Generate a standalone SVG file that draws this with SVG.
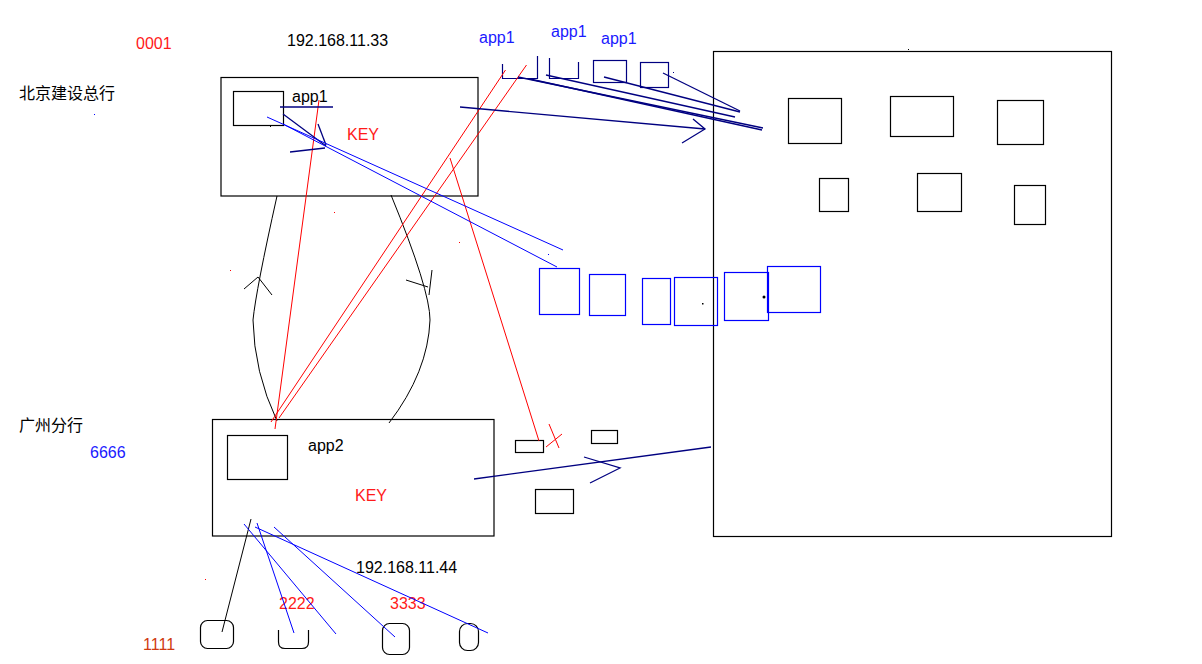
<svg xmlns="http://www.w3.org/2000/svg" width="1202" height="664" viewBox="0 0 1202 664">
<style>
.t{font-family:"Liberation Sans",Arial,sans-serif;font-size:16px}
.cn{font-family:"Liberation Sans","Noto Sans CJK SC",sans-serif;font-size:16px;fill:#000}
.red{fill:#ff1a1a}
.blu{fill:#1a1aff}
.blk{fill:#000}
.box{fill:none;stroke:#000;stroke-width:1.2}
.nbox{fill:none;stroke:#000080;stroke-width:1.2}
.bbox{fill:none;stroke:#0000ff;stroke-width:1.2}
.rl{stroke:#ff0000;stroke-width:1;fill:none}
.bl{stroke:#0000ff;stroke-width:1;fill:none}
.nl{stroke:#000080;stroke-width:1.3;fill:none}
.kl{stroke:#000;stroke-width:1;fill:none}
</style>
<rect width="1202" height="664" fill="#fff"/>

<g id="labels">
<text class="t red" x="136" y="49">0001</text>
<text class="t blk" x="287" y="46">192.168.11.33</text>
<text class="cn" x="19" y="99">北京建设总行</text>
<text class="cn" x="19" y="431">广州分行</text>
<text class="t blu" x="90" y="458">6666</text>
<text class="t blk" x="356" y="573">192.168.11.44</text>
<text class="t red" x="279" y="609">2222</text>
<text class="t red" x="390" y="609">3333</text>
<text class="t" fill="#d03a10" x="143" y="650">1111</text>
<text class="t blu" x="479" y="43">app1</text>
<text class="t blu" x="551" y="37">app1</text>
<text class="t blu" x="601" y="44">app1</text>
</g>

<g id="node-beijing">
<rect class="box" x="221" y="77.5" width="257" height="118.5"/>
<rect class="box" x="233.5" y="91.5" width="50" height="34"/>
<text class="t blk" x="292" y="102">app1</text>
<text class="t red" x="347" y="140">KEY</text>
</g>

<g id="node-guangzhou">
<rect class="box" x="212.5" y="419.5" width="281.5" height="116.5"/>
<rect class="box" x="227.5" y="435.5" width="60" height="44"/>
<text class="t blk" x="308" y="451">app2</text>
<text class="t red" x="355" y="501">KEY</text>
</g>

<g id="node-app-boxes-top">
<polyline class="nbox" points="502.5,64 502.5,78.5 537.5,78.5 537.5,56"/>
<polyline class="nbox" points="549.5,58 549.5,78.5 578.5,78.5 578.5,62"/>
<rect class="nbox" x="593.5" y="60.5" width="33" height="22"/>
<rect class="nbox" x="640.5" y="62.5" width="28" height="25"/>
</g>

<g id="node-server">
<rect class="box" x="713.5" y="51.5" width="398" height="485"/>
<rect class="box" x="788.5" y="98.5" width="53" height="45"/>
<rect class="box" x="890.5" y="96.5" width="63" height="40"/>
<rect class="box" x="997.5" y="100.5" width="46" height="44"/>
<rect class="box" x="819.5" y="178.5" width="29" height="33"/>
<rect class="box" x="917.5" y="173.5" width="44" height="38"/>
<rect class="box" x="1014.5" y="185.5" width="31" height="39"/>
</g>

<g id="node-blue-boxes">
<rect class="bbox" x="539.5" y="268.5" width="40" height="46"/>
<rect class="bbox" x="589.5" y="274.5" width="36" height="41"/>
<rect class="bbox" x="642.5" y="278.5" width="28" height="46"/>
<rect class="bbox" x="674.5" y="277.5" width="43" height="48"/>
<rect class="bbox" x="724.5" y="272.5" width="44" height="48"/>
<rect class="bbox" x="767.5" y="266.5" width="53" height="46"/>
</g>

<g id="node-small-boxes">
<rect class="box" x="515.5" y="440.5" width="28" height="12"/>
<rect class="box" x="591.5" y="430.5" width="26" height="13"/>
<rect class="box" x="535.5" y="489.5" width="38" height="24"/>
</g>

<g id="node-devices">
<rect class="box" x="200.5" y="620.5" width="33" height="28" rx="7"/>
<path class="box" d="M278.5,630 V642 Q278.5,648.5 285,648.5 H302 Q308.5,648.5 308.5,642 V630"/>
<rect class="box" x="382.5" y="623.5" width="27" height="31" rx="7"/>
<rect class="box" x="459.5" y="623.5" width="19" height="27" rx="8"/>
</g>

<g id="connectors">
<!-- black curves between branches -->
<path class="kl" d="M277,196 Q256,290 253,320 Q254,372 277,421"/>
<polyline class="kl" points="244,289 258,277 272,295"/>
<path class="kl" d="M391,195 Q430,290 430,320 Q428,372 389,423"/>
<line class="kl" x1="406" y1="280" x2="428" y2="287"/>
<line class="kl" x1="432" y1="270" x2="429" y2="295"/>
<!-- red lines -->
<line class="rl" x1="319" y1="100" x2="275" y2="429"/>
<line class="rl" x1="505.5" y1="70" x2="271" y2="422"/>
<line class="rl" x1="526.5" y1="65" x2="279" y2="418"/>
<line class="rl" x1="450" y1="158" x2="539" y2="441"/>
<line class="rl" x1="549" y1="424" x2="559" y2="448"/>
<line class="rl" x1="562" y1="434" x2="546" y2="447"/>
<!-- navy strokes in beijing box -->
<line class="nl" x1="280" y1="107" x2="333" y2="107"/>
<line class="nl" x1="283" y1="114" x2="326" y2="146"/>
<line class="nl" x1="318" y1="124" x2="326" y2="145"/>
<line class="nl" x1="290" y1="152" x2="325" y2="148"/>
<!-- blue lines to blue boxes -->
<line class="bl" x1="267" y1="117" x2="563" y2="250"/>
<line class="bl" x1="283" y1="124" x2="557" y2="267"/>
<!-- navy lines from app boxes to server -->
<line class="nl" x1="518" y1="77" x2="763" y2="128"/>
<line class="nl" x1="530" y1="79" x2="762" y2="130"/>
<line class="nl" x1="546" y1="75" x2="735" y2="117"/>
<line class="nl" x1="604" y1="77" x2="740" y2="112"/>
<line class="nl" x1="663" y1="73" x2="740" y2="111"/>
<!-- navy arrow beijing to server -->
<line class="nl" x1="460" y1="107" x2="705" y2="129"/>
<polyline class="nl" points="693,119 705,129 682,143"/>
<!-- navy arrow guangzhou to server -->
<line class="nl" x1="474" y1="479" x2="711" y2="447"/>
<polyline class="nl" points="584,457 620,468 590,483"/>
<!-- bottom lines to devices -->
<line class="kl" x1="251" y1="519" x2="222" y2="632"/>
<line class="bl" x1="244" y1="524" x2="336" y2="634"/>
<line class="bl" x1="257" y1="523" x2="294" y2="633"/>
<line class="bl" x1="255" y1="527" x2="488" y2="633"/>
<line class="bl" x1="274" y1="527" x2="395" y2="637"/>
</g>

<g id="specks">
<rect x="94" y="114" width="1" height="1" fill="#0000ff"/>
<rect x="548" y="254" width="1" height="1" fill="#0000ff"/>
<rect x="334" y="212" width="1" height="1" fill="#ff0000"/>
<rect x="459" y="242" width="1" height="1" fill="#ff0000"/>
<rect x="230" y="270" width="1" height="1" fill="#ff0000"/>
<rect x="205" y="579" width="1" height="1" fill="#ff0000"/>
<rect x="908" y="49" width="1" height="1" fill="#000"/>
<rect x="673" y="72" width="1" height="1" fill="#000080"/>
<rect x="702" y="303" width="1.5" height="1.5" fill="#000"/>
<circle cx="764" cy="297" r="1.5" fill="#000"/>
<rect x="270" y="126" width="1" height="1" fill="#000"/>
</g>
</svg>
